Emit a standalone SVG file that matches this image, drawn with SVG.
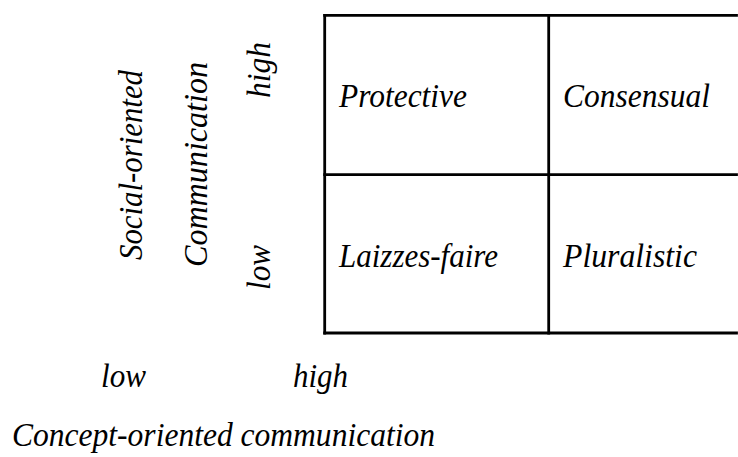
<svg xmlns="http://www.w3.org/2000/svg" width="738" height="457" viewBox="0 0 738 457">
<style>
.g{stroke:#000;stroke-width:2.8;fill:none;stroke-linecap:square;}
.t{font-family:"Liberation Serif","Times New Roman",serif;font-style:italic;font-size:33px;fill:#000;}
</style>
<rect width="738" height="457" fill="#fff"/>
<g id="grid">
<line class="g" x1="324.7" y1="15.3" x2="736.5" y2="15.3"/>
<line class="g" x1="324.7" y1="174.7" x2="736.5" y2="174.7"/>
<line class="g" x1="324.7" y1="333" x2="736.5" y2="333"/>
<line class="g" x1="324.7" y1="15.3" x2="324.7" y2="333"/>
<line class="g" x1="548.7" y1="15.3" x2="548.7" y2="333"/>
</g>
<g id="protective"><text class="t" x="339" y="107" textLength="128" lengthAdjust="spacingAndGlyphs">Protective</text></g>
<g id="consensual"><text class="t" x="563" y="107" textLength="147" lengthAdjust="spacingAndGlyphs">Consensual</text></g>
<g id="laizzes-faire"><text class="t" x="339" y="266.5" textLength="159" lengthAdjust="spacingAndGlyphs">Laizzes-faire</text></g>
<g id="pluralistic"><text class="t" x="563" y="266.5" textLength="134" lengthAdjust="spacingAndGlyphs">Pluralistic</text></g>
<g id="y-axis">
<text class="t" transform="translate(142,260) rotate(-90)" textLength="190" lengthAdjust="spacingAndGlyphs">Social-oriented</text>
<text class="t" transform="translate(207,267) rotate(-90)" textLength="205" lengthAdjust="spacingAndGlyphs">Communication</text>
<text class="t" transform="translate(270,98) rotate(-90)" textLength="56" lengthAdjust="spacingAndGlyphs">high</text>
<text class="t" transform="translate(270,290) rotate(-90)" textLength="45" lengthAdjust="spacingAndGlyphs">low</text>
</g>
<g id="x-axis">
<text class="t" x="101" y="386.5" textLength="45" lengthAdjust="spacingAndGlyphs">low</text>
<text class="t" x="293" y="386.5" textLength="55" lengthAdjust="spacingAndGlyphs">high</text>
<text class="t" x="12" y="446" textLength="423" lengthAdjust="spacingAndGlyphs">Concept-oriented communication</text>
</g>
</svg>
